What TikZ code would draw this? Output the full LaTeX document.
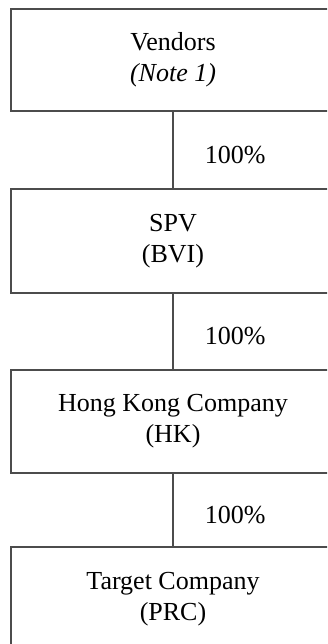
\documentclass[tikz,border=0pt]{standalone}
\usepackage{fontspec}
\setmainfont{Liberation Serif}
\definecolor{boxgray}{gray}{0.3}
\tikzset{
    entity/.style={draw=boxgray, line width=1.2pt, rectangle, align=center,
        minimum width=324pt, inner sep=0pt,
        font=\fontsize{26}{31}\selectfont},
    share/.style={font=\fontsize{26}{31}\selectfont, right, xshift=28pt, yshift=-5pt}
}
\begin{document}
\begin{tikzpicture}[x=1pt, y=-1pt]
    \useasboundingbox (0,0) rectangle (327,644);
    \clip (0,0) rectangle (327,644);
    % holding chain
    \node[entity, minimum height=102pt] (vendors) at (173, 60) {Vendors\\\textit{(Note 1)}};
    \node[entity, minimum height=104pt] (spv) at (173, 241) {SPV\\(BVI)};
    \node[entity, minimum height=103pt] (hk) at (173, 421.5) {Hong Kong Company\\(HK)};
    \node[entity, minimum height=104pt] (target) at (173, 599) {Target Company\\(PRC)};

    \foreach \a/\b in {vendors/spv, spv/hk, hk/target}
        \draw[boxgray, line width=1.2pt] (\a.south) -- node[share, text=black] {100\%} (\b.north);
\end{tikzpicture}
\end{document}
